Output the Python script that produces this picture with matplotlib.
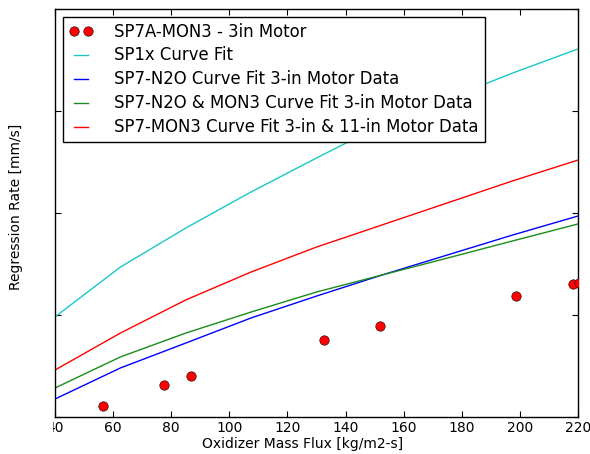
import matplotlib
matplotlib.use("Agg")
import matplotlib.pyplot as plt
from matplotlib.patches import Rectangle

# Measured data points
mass_flux = [56.5, 77.5, 86.8, 132.6, 151.8, 198.6, 218.2, 220.2]
regression = [0.054, 0.157, 0.200, 0.377, 0.446, 0.592, 0.651, 0.658]

# Curve-fit polylines
fit_x = [40, 62.5, 85, 107.5, 130, 152.5, 175, 197.5, 220]
sp1x_fit = [0.490, 0.734, 0.925, 1.102, 1.268, 1.430, 1.557, 1.684, 1.802]
n2o_fit = [0.088, 0.240, 0.362, 0.485, 0.592, 0.695, 0.793, 0.891, 0.984]
n2o_mon3_fit = [0.142, 0.294, 0.411, 0.514, 0.612, 0.695, 0.778, 0.862, 0.945]
mon3_fit = [0.230, 0.411, 0.573, 0.710, 0.832, 0.940, 1.048, 1.156, 1.258]

labels = ["SP7A-MON3 - 3in Motor", "SP1x Curve Fit",
          "SP7-N2O Curve Fit 3-in Motor Data",
          "SP7-N2O & MON3 Curve Fit 3-in Motor Data",
          "SP7-MON3 Curve Fit 3-in & 11-in Motor Data"]
x_ticks = [40, 60, 80, 100, 120, 140, 160, 180, 200, 220]
y_ticks = [0, 0.5, 1.0, 1.5, 2.0]

plt.rcParams['font.family'] = ['DejaVu Sans']
fig = plt.figure(figsize=(5.90, 4.54), dpi=100)
W, H = 590, 454
left, right, top, bottom = 55, 578, 8.5, 417
ax = fig.add_axes([left / W, 1 - bottom / H, (right - left) / W, (bottom - top) / H])

ax.plot(mass_flux, regression, 'o', color='red', markeredgecolor='black',
        markeredgewidth=0.4, markersize=6.8, label=labels[0], zorder=3)
ax.plot(fit_x, sp1x_fit, color=(0.1, 0.78, 0.78), lw=1.0, label=labels[1])
ax.plot(fit_x, n2o_fit, color='blue', lw=1.0, label=labels[2])
ax.plot(fit_x, n2o_mon3_fit, color=(0.1, 0.55, 0.1), lw=1.0, label=labels[3])
ax.plot(fit_x, mon3_fit, color='red', lw=1.0, label=labels[4])

ax.set_xlim(40, 220)
ax.set_ylim(0, 2.0)
ax.set_xticks(x_ticks)
ax.set_yticks(y_ticks)
ax.set_yticklabels([])
ax.tick_params(direction='in', top=True, right=True, length=4, width=0.8,
               labelsize=10, pad=3)
ax.set_xlabel("Oxidizer Mass Flux [kg/m2-s]", fontsize=10)
ax.set_ylabel("Regression Rate [mm/s]", fontsize=10)
ax.xaxis.set_label_coords((303 - left) / (right - left), (bottom - 437) / (bottom - top))
ax.yaxis.set_label_coords((23 - left) / (right - left), (bottom - 207) / (bottom - top))
for s in ax.spines.values():
    s.set_linewidth(1.0)

leg = ax.legend(loc='upper left', numpoints=2, fontsize=11.9, handlelength=1.45,
                fancybox=False, framealpha=1, edgecolor='black',
                borderaxespad=0.5, borderpad=0.35, labelspacing=0.36,
                handletextpad=1.3)
leg.get_frame().set_linewidth(1.0)

# white band hiding the clipped left margin (as in the reference crop)
fig.patches.append(Rectangle((30 / W, 0), 22.5 / W, 40 / H, transform=fig.transFigure,
                             facecolor='white', edgecolor='none', zorder=10))

fig.savefig("out.png", dpi=100)
